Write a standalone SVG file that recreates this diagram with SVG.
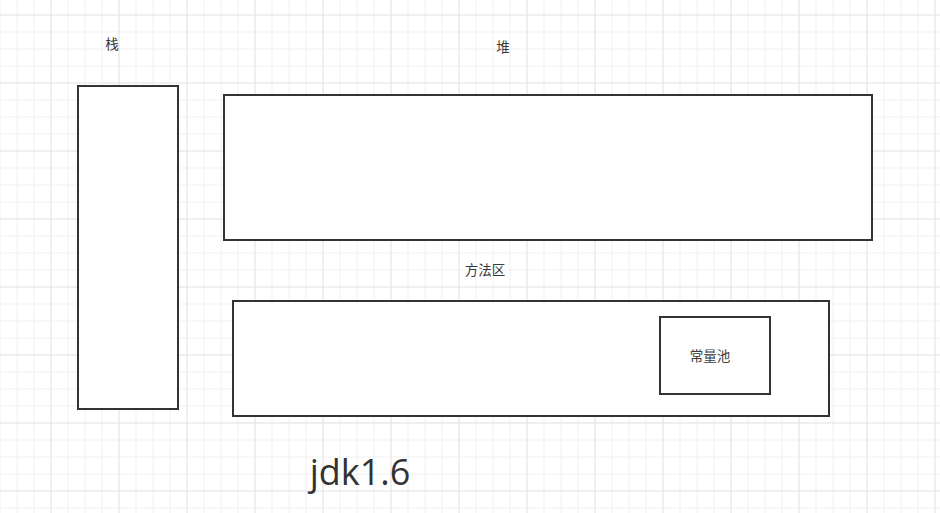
<svg xmlns="http://www.w3.org/2000/svg" width="940" height="513" viewBox="0 0 940 513">
<defs>
<pattern id="minor" x="16.5" y="14.5" width="17" height="17" patternUnits="userSpaceOnUse">
<path d="M0 0.5H17M0.5 0V17" fill="none" stroke="#f0f0f0" stroke-width="1"/>
</pattern>
<pattern id="major" x="50.5" y="14.5" width="68" height="68" patternUnits="userSpaceOnUse">
<path d="M0 0.5H68M0.5 0V68" fill="none" stroke="#e5e5e5" stroke-width="1"/>
</pattern>
</defs>
<style>
.box{fill:#ffffff;stroke:#333333;stroke-width:2}
.lbl{font-family:"Noto Sans CJK SC","Noto Sans",sans-serif;font-size:13.5px;fill:#3a3a3a;text-anchor:middle}
.big{font-family:"Open Sans","Noto Sans",sans-serif;font-size:36px;fill:#333333;text-anchor:middle}
</style>
<rect width="940" height="513" fill="#ffffff"/>
<rect width="940" height="513" fill="url(#minor)"/>
<rect width="940" height="513" fill="url(#major)"/>
<g id="connectors"></g>
<g id="stack">
<rect class="box" x="78" y="86" width="100" height="323"/>
<text class="lbl" x="112" y="49">栈</text>
</g>
<g id="heap">
<rect class="box" x="224" y="95" width="648" height="145"/>
<text class="lbl" x="503" y="52">堆</text>
</g>
<g id="method-area">
<rect class="box" x="233" y="301" width="596" height="115"/>
<text class="lbl" x="485" y="275">方法区</text>
</g>
<g id="constant-pool">
<rect class="box" x="660" y="317" width="110" height="77"/>
<text class="lbl" x="710" y="361">常量池</text>
</g>
<g id="title">
<text class="big" x="360" y="485">jdk1.6</text>
</g>
</svg>
